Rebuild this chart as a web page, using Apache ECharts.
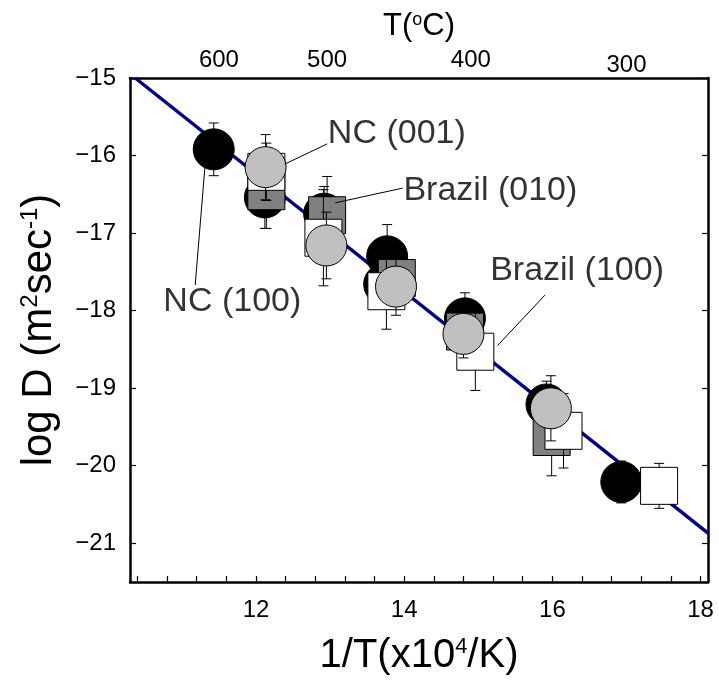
<!DOCTYPE html>
<html>
<head>
<meta charset="utf-8">
<script src="https://cdn.jsdelivr.net/npm/echarts@6/dist/echarts.min.js"></script>
<style>
  html, body { margin: 0; padding: 0; background: #fff; }
  #chart { width: 719px; height: 694px; }
</style>
</head>
<body>
<div id="chart"></div>
<script>
// data: x = 1/T (x10^4/K), y = log D
const nc100X = [11.43, 12.12, 12.92, 13.77, 13.73, 14.82, 15.92, 16.93];
const nc100Y = [-15.92, -16.54, -16.75, -17.30, -17.66, -18.10, -19.21, -20.21];
const nc100Err = [0.34, 0.40, 0.35, 0.41, 0.30, 0.33, 0.30, 0.27];

const br010X = [12.14, 12.96, 13.90, 14.82, 15.99];
const br010Y = [-16.46, -16.77, -17.58, -18.27, -19.63];
const br010Err = [0.48, 0.50, 0.40, 0.40, 0.50];

const br100X = [12.14, 12.91, 13.76, 14.96, 16.15, 17.44];
const br100Y = [-16.21, -17.06, -17.75, -18.53, -19.55, -20.26];
const br100Err = [0.37, 0.62, 0.49, 0.50, 0.48, 0.29];

const nc001X = [12.13, 12.95, 13.89, 14.80, 15.98];
const nc001Y = [-16.15, -17.16, -17.69, -18.30, -19.26];
const nc001Err = [0.42, 0.43, 0.37, 0.31, 0.42];

// fitted line end points
const fitX = [10.37, 18.1];
const fitY = [-15.0, -20.87];

// ticks
const xTickValues = [10.4, 10.8, 11.2, 11.6, 12.0, 12.4, 12.8, 13.2, 13.6, 14.0,
  14.4, 14.8, 15.2, 15.6, 16.0, 16.4, 16.8, 17.2, 17.6, 18.0];
const xLabelValues = [12, 14, 16, 18];
const yTickValues = [-21, -20, -19, -18, -17, -16, -15];
const topTickValues = [11.5, 12.96, 14.9, 17.0];
const topTickLabels = ['600', '500', '400', '300'];

// annotations: text anchor and leader line (start, end)
const noteText = ['NC (001)', 'Brazil (010)', 'Brazil (100)', 'NC (100)'];
const noteX = [12.97, 13.99, 15.16, 10.75];
const noteY = [-15.72, -16.45, -17.48, -17.89];
const leadX = [[12.39, 12.96], [13.07, 13.98], [15.26, 15.90], [11.31, 11.18]];
const leadY = [[-16.11, -15.85], [-16.61, -16.42], [-18.45, -17.80], [-16.16, -17.67]];

const font = 'Liberation Sans, Arial, sans-serif';

function zip(xs, ys) {
  return xs.map((x, i) => [x, ys[i]]);
}

function errorBars(xs, ys, errs, z) {
  return {
    type: 'custom',
    z: z,
    silent: true,
    data: xs.map((x, i) => [x, ys[i] - errs[i], ys[i] + errs[i]]),
    encode: { x: 0, y: [1, 2] },
    renderItem: function (params, api) {
      const lo = api.coord([api.value(0), api.value(1)]);
      const hi = api.coord([api.value(0), api.value(2)]);
      const hw = 5;
      const st = { stroke: '#000', lineWidth: 1 };
      return {
        type: 'group',
        children: [
          { type: 'line', shape: { x1: lo[0], y1: lo[1], x2: hi[0], y2: hi[1] }, style: st },
          { type: 'line', shape: { x1: lo[0] - hw, y1: lo[1], x2: lo[0] + hw, y2: lo[1] }, style: st },
          { type: 'line', shape: { x1: hi[0] - hw, y1: hi[1], x2: hi[0] + hw, y2: hi[1] }, style: st }
        ]
      };
    }
  };
}

function markers(xs, ys, symbol, size, color, z) {
  return {
    type: 'scatter',
    z: z,
    symbol: symbol,
    symbolSize: size,
    data: zip(xs, ys),
    itemStyle: { color: color, borderColor: '#000', borderWidth: 1, opacity: 1 },
    emphasis: { disabled: true }
  };
}

const leaderSeries = leadX.map((lx, i) => ({
  type: 'line',
  z: 20,
  symbol: 'none',
  silent: true,
  data: zip(lx, leadY[i]),
  lineStyle: { color: '#000', width: 1 }
}));

const chart = echarts.init(document.getElementById('chart'));

chart.setOption({
  animation: false,
  textStyle: { fontFamily: font, color: '#000' },
  grid: { left: 130, right: 11, top: 78, bottom: 112, outerBoundsMode: 'none' },
  xAxis: [
    {
      type: 'value',
      position: 'bottom',
      min: 10.3,
      max: 18.1,
      axisLine: { show: true, lineStyle: { color: '#000', width: 2.5 } },
      axisTick: { show: true, inside: true, length: 6, customValues: xTickValues, lineStyle: { color: '#000', width: 1.2 } },
      axisLabel: { customValues: xLabelValues, fontSize: 24, color: '#000', margin: 16, fontFamily: font },
      splitLine: { show: false },
      name: '1/T(x10{sup|4}/K)',
      nameLocation: 'middle',
      nameGap: 54,
      nameTextStyle: {
        fontSize: 40, color: '#000', fontFamily: font,
        rich: { sup: { fontSize: 22, verticalAlign: 'top', fontFamily: font, color: '#000' } }
      }
    },
    {
      type: 'value',
      position: 'top',
      min: 10.3,
      max: 18.1,
      axisLine: { show: true, lineStyle: { color: '#000', width: 2.5 } },
      axisTick: { show: false },
      axisLabel: {
        customValues: topTickValues,
        fontSize: 24,
        color: '#000',
        margin: 6,
        fontFamily: font,
        formatter: function (v) {
          const i = topTickValues.indexOf(v);
          if (i < 0) return '';
          return i === 3 ? '{low|' + topTickLabels[i] + '}' : topTickLabels[i];
        },
        rich: { low: { fontSize: 24, lineHeight: 14, fontFamily: font, color: '#000' } }
      },
      splitLine: { show: false },
      name: 'T({sup|o}C)',
      nameLocation: 'middle',
      nameGap: 36,
      nameTextStyle: {
        fontSize: 31, color: '#000', fontFamily: font,
        rich: { sup: { fontSize: 18, verticalAlign: 'top', fontFamily: font, color: '#000' } }
      }
    }
  ],
  yAxis: [
    {
      type: 'value',
      position: 'left',
      min: -21.5,
      max: -15,
      axisLine: { show: true, lineStyle: { color: '#000', width: 2.5 } },
      axisTick: { show: true, inside: true, length: 6, customValues: yTickValues, lineStyle: { color: '#000', width: 1.2 } },
      axisLabel: {
        customValues: yTickValues, fontSize: 24, color: '#000', margin: 14, fontFamily: font,
        formatter: v => String(v).replace('-', '\u2212')
      },
      splitLine: { show: false },
      name: 'log D (m{sup|2}sec{sup|-1})',
      nameLocation: 'middle',
      nameGap: 70,
      nameTextStyle: {
        fontSize: 42, color: '#000', fontFamily: font,
        rich: { sup: { fontSize: 24, verticalAlign: 'top', fontFamily: font, color: '#000' } }
      }
    },
    {
      type: 'value',
      position: 'right',
      min: -21.5,
      max: -15,
      axisLine: { show: true, lineStyle: { color: '#000', width: 2.5 } },
      axisTick: { show: true, inside: true, length: 6, customValues: yTickValues, lineStyle: { color: '#000', width: 1.2 } },
      axisLabel: { show: false },
      splitLine: { show: false }
    }
  ],
  series: [
    {
      type: 'line',
      z: 1,
      symbol: 'none',
      silent: true,
      data: zip(fitX, fitY),
      lineStyle: { color: '#000080', width: 3.5 }
    },
    errorBars(nc100X, nc100Y, nc100Err, 2),
    markers(nc100X, nc100Y, 'circle', 41, '#000000', 3),
    errorBars(br010X, br010Y, br010Err, 4),
    markers(br010X, br010Y, 'rect', 37, '#808080', 5),
    errorBars(br100X, br100Y, br100Err, 6),
    markers(br100X, br100Y, 'rect', 37, '#ffffff', 7),
    errorBars(nc001X, nc001Y, nc001Err, 8),
    markers(nc001X, nc001Y, 'circle', 41, '#c0c0c0', 9),
    ...leaderSeries,
    {
      type: 'scatter',
      z: 21,
      symbolSize: 0,
      silent: true,
      data: noteX.map((x, i) => [x, noteY[i], noteText[i]]),
      label: {
        show: true,
        position: 'right',
        distance: 0,
        fontSize: 34,
        color: '#000',
        fontFamily: font,
        formatter: p => p.value[2]
      }
    }
  ]
});
</script>
</body>
</html>
